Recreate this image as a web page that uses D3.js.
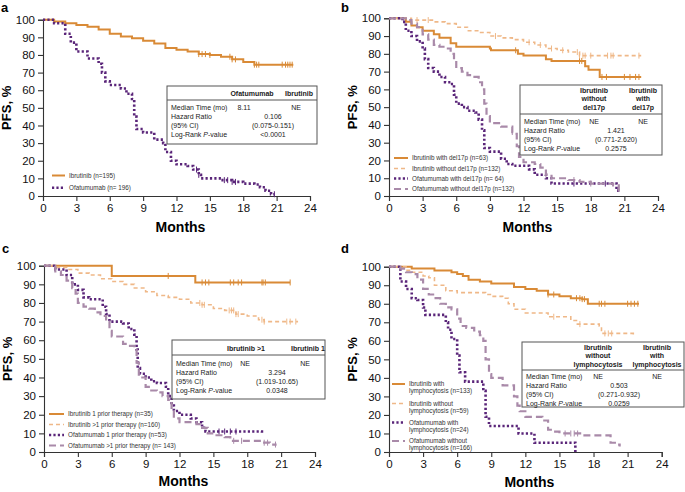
<!DOCTYPE html>
<html><head><meta charset="utf-8">
<script src="https://cdn.jsdelivr.net/npm/d3@7/dist/d3.min.js"></script>
<style>body{margin:0;background:#fff}svg{display:block;font-family:"Liberation Sans",Arial,sans-serif}</style>
</head><body><svg id="c" width="685" height="492"></svg>
<script>
// ---------- DATA ----------
const monthTicks = [0,3,6,9,12,15,18,21,24];
const pfsTicks = [0,10,20,30,40,50,60,70,80,90,100];

// Panel a
const aIbrutinib = [[0,100],[1,99],[2,98],[3,97],[4,96],[5,94.5],[6,92],[7,90.5],[8,89.5],[9,88],[10,86.5],[11,84],[12,83],[13,82],[14,80.5],[15,80],[16,79],[17,77.5],[18,76],[19,74.5],[22.5,74.5]];
const aOfatumumab = [[0,100],[1,98],[2,92],[2.5,87],[3,82],[4,78],[5,75],[5.3,70],[5.6,65],[6,63],[7,61],[7.5,58],[8,55],[8.2,45],[8.4,38],[9,36],[10,32],[10.8,30],[11,25],[11.5,20],[12,18],[13,17],[13.5,15],[14,12],[14.2,10],[15,10],[16,9],[17,8],[18,7],[19,6.5],[19.5,5],[20,3],[20.5,1],[20.8,1]];
const aIbrutinibCens = [14,14.3,14.6,15,16.8,17,17.3,19,19.2,19.4,21.5,21.8,22,22.2,22.4];
const aOfatumumabCens = [13.8,14,16.3,16.6,17,17.3,20.8];

// Panel b
const bIbrWithDel = [[0,100],[1.5,98],[2,96],[2.5,95],[3,93],[4,91],[4.5,89],[5.5,86],[6,84],[9,83],[9.1,82],[11.5,80],[12,79],[14,77],[14.5,76],[17.5,73],[17.8,71],[18.8,67],[22.5,67]];
const bIbrWithoutDel = [[0,100],[2,99],[4,98],[5,97],[6,95],[7,93],[8,92],[9,90],[10,89],[11,88],[12,86.5],[13,85],[14,83],[15,82],[16,81],[17,79],[22.5,79]];
const bOfaWithDel = [[0,100],[1.2,98],[1.5,93],[2,90],[2.5,87],[3,83],[3.2,77],[3.5,72],[4,70],[4.5,67],[5,64],[5.5,63],[5.8,57],[6,52],[6.5,50],[7,48],[7.7,47],[8,43],[8.3,37],[8.5,27],[9,25],[10,21],[10.5,18],[11,17],[12,17],[12.5,15],[13,12],[14,10],[14.5,7],[20,7],[20.3,3],[20.7,3]];
const bOfaWithoutDel = [[0,100],[1.5,99],[2,97],[2.5,95],[3,91],[3.5,88],[4,85],[4.5,84],[5,83],[5.5,80],[5.8,76],[6,72],[6.5,70],[7,68],[7.5,67],[8,64],[8.3,60],[8.5,52],[8.7,45],[9,41],[10,39],[11,36],[11.2,35],[11.4,28],[11.6,22],[12,19],[13,18],[13.5,16],[14,12],[14.5,10],[15,10],[16,9],[17,8],[18,7],[19,7],[20,6],[20.5,3],[20.7,3]];
const bIbrWithDelCens = [11.3,17,17.2,19,19.4,21,21.5,22,22.3];
const bIbrWithoutDelCens = [2.5,3.5,9.5,12.5,13.5,14.5,15.5,16.8,17,17.3,17.5,18,19.5,19.8,20,22.3];
const bOfaWithDelCens = [16.5,19.3];
const bOfaWithoutDelCens = [11,14,16.5,18];

// Panel c
const cIbr1 = [[0,100],[6,94.5],[13.4,91],[21.8,91]];
const cIbrMore = [[0,100],[1,99],[2,98],[3,96],[4,95],[5,93],[6,91.5],[7,90],[8,88],[9,86],[10,84],[11,83],[12,82],[13,80],[14,79],[15,77],[16,76],[17,74],[18,73],[19,71],[19.5,70],[22.5,70]];
const cOfa1 = [[0,100],[1,98],[2,95],[2.5,90],[3,87],[3.5,83],[4,82],[5.2,78],[5.5,74],[5.8,70],[7,69],[7.5,66],[8,63],[8.2,55],[8.3,45],[8.5,42],[9,40],[9.5,38],[10,37],[10.8,35],[11,30],[11.3,25],[11.5,22],[12,20],[13,18],[13.5,16],[14,13],[14.3,11],[19.1,11],[19.3,10]];
const cOfaMore = [[0,100],[1,97],[1.5,95],[2,92],[2.5,88],[2.8,85],[3,80],[3.5,78],[4,77],[4.5,75],[5,73],[5.5,70],[5.8,65],[6,62],[7,58],[7.5,57],[8,55],[8.2,48],[8.4,40],[9,35],[9.5,33],[10,32],[10.5,30],[11,28],[11.3,22],[11.5,18],[12,16],[13.5,15],[14,13],[14.5,10],[15,9],[16,8],[16.5,6],[19.5,5],[20,4],[20.6,4]];
const cIbr1Cens = [11,14,14.3,14.6,16.5,16.8,17.2,17.5,19.3,19.4,19.6,21.8];
const cIbrMoreCens = [13.8,14,14.2,16.4,16.6,16.8,17,17.2,19.3,19.5,21.5,21.8,22.3];
const cOfa1Cens = [15.5,16,16.5,17];
const cOfaMoreCens = [16.8,17.5,19.5,19.8,20.5];

// Panel d
const dIbrWithLym = [[0,100],[2,99],[4,98],[5.5,97],[6,96],[6.5,95],[7,93],[8,92],[9,91],[11,89],[12,88],[13,87],[14,85],[15,84],[16,83],[17,82.5],[17.5,80],[22,80]];
const dIbrWithoutLym = [[0,100],[1.5,98],[2,97],[3,95],[3.5,94],[4,90],[5,87],[6,86],[8.5,85],[9,84],[10,83],[10.5,80],[11,77],[12,75],[14,73],[16,71],[16.5,69],[18.5,68],[18.7,64],[21.5,63]];
const dOfaWithLym = [[0,100],[1,92],[1.5,88],[2,83],[2.5,82],[3,78],[3.2,74],[5,70],[5.2,66],[5.5,61],[6,52],[6.2,43],[6.7,38],[8,38],[8.3,33],[8.5,19],[8.8,14],[11,14],[11.4,10],[12.8,5],[16.3,5],[16.4,0]];
const dOfaWithoutLym = [[0,100],[1,99],[1.5,97],[2,96],[2.5,93],[3,88],[3.5,85],[4,83],[4.5,80],[5,78],[5.5,77],[6,72],[6.3,68],[6.8,67],[7.5,65],[8,63],[8.3,60],[8.5,50],[8.8,42],[9,40],[10,36],[11,30],[11.3,25],[11.5,22],[12,19],[13,19],[13.5,17],[14,12],[14.5,11],[15,10],[17,9],[19,9],[19.5,5],[20,4],[20.3,3]];
const dIbrWithLymCens = [14,14.5,16.5,16.8,17,17.2,18.5,18.7,19,21,21.3,21.6,21.9];
const dIbrWithoutLymCens = [14.5,16.8,19,19.3,19.6];
const dOfaWithLymCens = [];
const dOfaWithoutLymCens = [15.5,16,16.3,16.6];

// Legend labels
const aLegend = ["Ibrutinib (n=195)","Ofatumumab (n= 196)"];
const bLegend = ["Ibrutinib with del17p (n=63)","Ibrutinib without del17p (n=132)","Ofatumumab with del17p (n= 64)","Ofatumumab without del17p (n=132)"];
const cLegend = ["Ibrutinib 1 prior therapy (n=35)","Ibrutinib >1 prior therapy (n=160)","Ofatumumab 1 prior therapy (n=53)","Ofatumumab >1 prior therapy (n= 143)"];
const dLegend = [["Ibrutinib with","lymphocytosis (n=133)"],["Ibrutinib without","lymphocytosis (n=59)"],["Ofatumumab with","lymphocytosis (n=24)"],["Ofatumumab without","lymphocytosis (n=166)"]];

// Table texts
const aTable = {head:[["Ofatumumab"],["Ibrutinib"]], median:["8.11","NE"], hr:"0.106", ci:"(0.075-0.151)", p:"<0.0001"};
const bTable = {head:[["Ibrutinib","without","del17p"],["Ibrutinib","with","del17p"]], median:["NE","NE"], hr:"1.421", ci:"(0.771-2.620)", p:"0.2575"};
const cTable = {head:[["Ibrutinib >1"],["Ibrutinib 1"]], median:["NE","NE"], hr:"3.294", ci:"(1.019-10.65)", p:"0.0348"};
const dTable = {head:[["Ibrutinib","without","lymphocytosis"],["Ibrutinib","with","lymphocytosis"]], median:["NE","NE"], hr:"0.503", ci:"(0.271-0.932)", p:"0.0259"};

// ---------- STYLES ----------
const ST = {
  ibr:   {stroke:"#d98a36", width:2, dash:null},
  ibrL:  {stroke:"#efb888", width:1.6, dash:"4,3"},
  ofa:   {stroke:"#5a2579", width:2.6, dash:"2.2,2.2"},
  ofaL:  {stroke:"#a98aa9", width:2.2, dash:"7,4"}
};

const svg = d3.select("#c");

function panel(cfg){
  const g = svg.append("g");
  const x = d3.scaleLinear().domain([0,24]).range([cfg.x0,cfg.x1]);
  const y = d3.scaleLinear().domain([0,100]).range([cfg.yBot,cfg.yTop]);
  const xa = g.append("g").attr("transform",`translate(0,${cfg.yBot})`)
    .call(d3.axisBottom(x).tickValues(monthTicks).tickSize(5).tickPadding(3));
  const ya = g.append("g").attr("transform",`translate(${cfg.x0},0)`)
    .call(d3.axisLeft(y).tickValues(pfsTicks).tickSize(5).tickPadding(3));
  [xa,ya].forEach(a=>{a.select(".domain").attr("stroke","#333").attr("stroke-width",1.1);
    a.selectAll(".tick line").attr("stroke","#333").attr("stroke-width",1.1);
    a.selectAll(".tick text").attr("font-size",11.5).attr("fill","#111").attr("font-family","Liberation Sans, Arial, sans-serif");});
  g.append("text").attr("x",(cfg.x0+cfg.x1)/2+4).attr("y",cfg.monthsY).attr("text-anchor","middle")
    .attr("font-weight","bold").attr("font-size",14).text("Months");
  g.append("text").attr("transform",`translate(${cfg.x0-32},${(cfg.yTop+cfg.yBot)/2}) rotate(-90)`)
    .attr("text-anchor","middle").attr("font-weight","bold").attr("font-size",13).text("PFS, %");
  g.append("text").attr("x",cfg.lx).attr("y",cfg.ly).attr("font-weight","bold").attr("font-size",13).text(cfg.letter);

  const line = d3.line().x(d=>x(d[0])).y(d=>y(d[1])).curve(d3.curveStepAfter);
  cfg.series.forEach(s=>{
    const st = ST[s.style];
    g.append("path").attr("d",line(s.data)).attr("fill","none").attr("stroke",st.stroke)
      .attr("stroke-width",st.width).attr("stroke-dasharray",st.dash);
    const val = t=>{let v=s.data[0][1]; for(const p of s.data){ if(p[0]<=t) v=p[1]; } return v;};
    g.selectAll(null).data(s.cens).enter().append("line")
      .attr("x1",d=>x(d)).attr("x2",d=>x(d)).attr("y1",d=>y(val(d))-3).attr("y2",d=>y(val(d))+3)
      .attr("stroke",st.stroke).attr("stroke-width",1);
  });

  cfg.series.forEach((s,i)=>{
    const st = ST[s.style];
    const ly = cfg.legY[i];
    g.append("line").attr("x1",cfg.legX).attr("x2",cfg.legX+cfg.legLen).attr("y1",ly).attr("y2",ly)
      .attr("stroke",st.stroke).attr("stroke-width",st.width).attr("stroke-dasharray",st.dash);
    const lab = Array.isArray(cfg.legend[i]) ? cfg.legend[i] : [cfg.legend[i]];
    lab.forEach((t,j)=>g.append("text").attr("x",cfg.legX+cfg.legLen+4).attr("y",ly+2.2+j*7.2)
      .attr("font-size",6.3).attr("fill","#333").text(t));
  });

  const T = cfg.table, b = cfg.box;
  g.append("rect").attr("x",b.x).attr("y",b.y).attr("width",b.w).attr("height",b.h)
    .attr("fill","#fff").attr("stroke","#555").attr("stroke-width",1);
  g.append("line").attr("x1",b.x).attr("x2",b.x+b.w).attr("y1",b.div).attr("y2",b.div).attr("stroke","#555").attr("stroke-width",1);
  T.head.forEach((h,k)=>h.forEach((t,j)=>g.append("text").attr("x",b.hx[k]).attr("y",b.hy+j*8.3)
    .attr("text-anchor","middle").attr("font-weight","bold").attr("font-size",7).attr("fill","#222").text(t)));
  const rows = ["Median Time (mo)","Hazard Ratio","(95% CI)",null];
  rows.forEach((r,i)=>{
    const t = g.append("text").attr("x",b.x+4).attr("y",b.ry+i*9.1).attr("font-size",7).attr("fill","#222");
    if(r) t.text(r); else { t.text("Log-Rank "); t.append("tspan").attr("font-style","italic").text("P"); t.append("tspan").text("-value"); }
  });
  g.append("text").attr("x",b.mx[0]).attr("y",b.ry).attr("text-anchor","middle").attr("font-size",7).attr("fill","#222").text(T.median[0]);
  g.append("text").attr("x",b.mx[1]).attr("y",b.ry).attr("text-anchor","middle").attr("font-size",7).attr("fill","#222").text(T.median[1]);
  [T.hr,T.ci,T.p].forEach((v,i)=>g.append("text").attr("x",b.vx).attr("y",b.ry+(i+1)*9.1)
    .attr("text-anchor","middle").attr("font-size",7).attr("fill","#222").text(v));
}

panel({letter:"a", lx:1, ly:12, x0:43, x1:310, yTop:19.7, yBot:196, monthsY:232,
  series:[{data:aIbrutinib,cens:aIbrutinibCens,style:"ibr"},{data:aOfatumumab,cens:aOfatumumabCens,style:"ofa"}],
  legend:aLegend, legX:52, legLen:13, legY:[175.5,187.7],
  table:aTable, box:{x:167,y:86,w:150,h:58,div:100,hx:[252,299],hy:96,ry:110,mx:[244,296],vx:273}});

panel({letter:"b", lx:341, ly:12, x0:389, x1:658, yTop:18.3, yBot:196, monthsY:232,
  series:[{data:bIbrWithDel,cens:bIbrWithDelCens,style:"ibr"},{data:bIbrWithoutDel,cens:bIbrWithoutDelCens,style:"ibrL"},
          {data:bOfaWithDel,cens:bOfaWithDelCens,style:"ofa"},{data:bOfaWithoutDel,cens:bOfaWithoutDelCens,style:"ofaL"}],
  legend:bLegend, legX:394, legLen:14, legY:[158,168.5,178.5,189],
  table:bTable, box:{x:520,y:85,w:142,h:70,div:114,hx:[594,643],hy:93,ry:124,mx:[594,643],vx:616}});

panel({letter:"c", lx:2, ly:253, x0:44, x1:315, yTop:265.7, yBot:452, monthsY:486,
  series:[{data:cIbr1,cens:cIbr1Cens,style:"ibr"},{data:cIbrMore,cens:cIbrMoreCens,style:"ibrL"},
          {data:cOfa1,cens:cOfa1Cens,style:"ofa"},{data:cOfaMore,cens:cOfaMoreCens,style:"ofaL"}],
  legend:cLegend, legX:49, legLen:15, legY:[414,424.5,435,445.5],
  table:cTable, box:{x:172,y:340,w:153,h:59,div:355,hx:[246,308],hy:351,ry:366,mx:[245,305],vx:277}});

panel({letter:"d", lx:341, ly:253, x0:389, x1:661.7, yTop:266.7, yBot:452, monthsY:487,
  series:[{data:dIbrWithLym,cens:dIbrWithLymCens,style:"ibr"},{data:dIbrWithoutLym,cens:dIbrWithoutLymCens,style:"ibrL"},
          {data:dOfaWithLym,cens:dOfaWithLymCens,style:"ofa"},{data:dOfaWithoutLym,cens:dOfaWithoutLymCens,style:"ofaL"}],
  legend:dLegend, legX:392, legLen:13, legY:[384,403.5,422.5,441],
  table:dTable, box:{x:522,y:342,w:162,h:65,div:370,hx:[598,657],hy:350,ry:379,mx:[598,657],vx:619}});
</script></body></html>
